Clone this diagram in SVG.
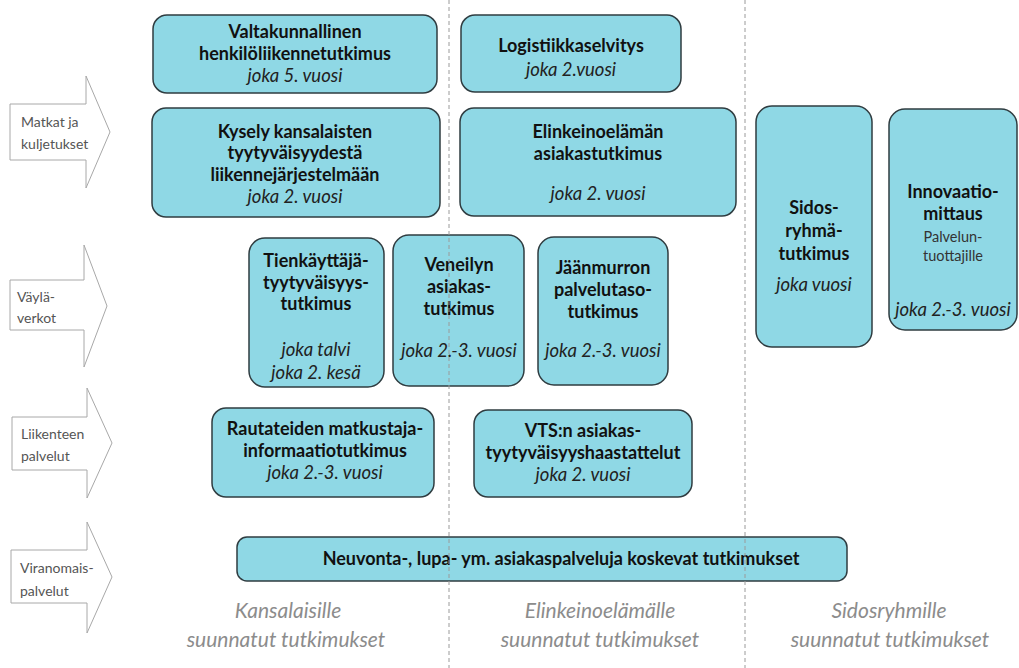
<svg xmlns="http://www.w3.org/2000/svg" width="1019" height="668" viewBox="0 0 1019 668">
<style>
.box{fill:#8fd8e5;stroke:#2f3c40;stroke-width:1.5}
.arrow{fill:#fff;stroke:#a8a8a8;stroke-width:1}
.b{font-family:Lato,"Open Sans",sans-serif;font-weight:bold;font-size:18px;fill:#111;text-anchor:middle}
.i{font-family:Lato,"Open Sans",sans-serif;font-style:italic;font-size:18.5px;fill:#222;text-anchor:middle}
.s{font-family:Lato,"Open Sans",sans-serif;font-size:14.5px;fill:#333;text-anchor:middle}
.al{font-family:Lato,"Open Sans",sans-serif;font-size:14px;fill:#555}
.bt{font-family:Lato,"Open Sans",sans-serif;font-style:italic;font-size:21px;fill:#8c8c8c;text-anchor:middle}
.dash{stroke:#9a9a9a;stroke-width:1;stroke-dasharray:4 3;fill:none}
</style>
<rect width="1019" height="668" fill="#fff"/>
<g id="arrows">
<g id="arrow-matkat"><polygon class="arrow" points="10,104 86,104 86,76 110,132 86,188 86,160 10,160"/><text class="al" x="21" y="127">Matkat ja</text><text class="al" x="21" y="149">kuljetukset</text></g>
<g id="arrow-vayla"><polygon class="arrow" points="10,280 84,280 84,245 107,306 84,367 84,330 10,330"/><text class="al" x="17" y="302">Väylä-</text><text class="al" x="17" y="323">verkot</text></g>
<g id="arrow-liikenteen"><polygon class="arrow" points="12,417 87,417 87,388 112,443 87,498 87,470 12,470"/><text class="al" x="21" y="439">Liikenteen</text><text class="al" x="21" y="461">palvelut</text></g>
<g id="arrow-viranomais"><polygon class="arrow" points="11,550 87,550 87,522 112,577 87,633 87,603 11,603"/><text class="al" x="20" y="573">Viranomais-</text><text class="al" x="20" y="596">palvelut</text></g>
</g>
<g id="n-valtakunnallinen"><rect class="box" x="153" y="15" width="284" height="78" rx="14"/><text class="b" x="295" y="38">Valtakunnallinen</text><text class="b" x="295" y="60">henkilöliikennetutkimus</text><text class="i" x="295" y="82">joka 5. vuosi</text></g>
<g id="n-kysely"><rect class="box" x="152" y="108" width="288" height="109" rx="14"/><text class="b" x="295" y="138">Kysely kansalaisten</text><text class="b" x="295" y="159">tyytyväisyydestä</text><text class="b" x="295" y="181">liikennejärjestelmään</text><text class="i" x="295" y="203">joka 2. vuosi</text></g>
<g id="n-logistiikka"><rect class="box" x="461" y="15" width="220" height="77" rx="14"/><text class="b" x="571" y="52">Logistiikkaselvitys</text><text class="i" x="571" y="76">joka 2.vuosi</text></g>
<g id="n-elinkeino"><rect class="box" x="460" y="108" width="276" height="108" rx="14"/><text class="b" x="598" y="138">Elinkeinoelämän</text><text class="b" x="598" y="160">asiakastutkimus</text><text class="i" x="598" y="200">joka 2. vuosi</text></g>
<g id="n-sidos"><rect class="box" x="756" y="106" width="116" height="241" rx="16"/><text class="b" x="814" y="214">Sidos-</text><text class="b" x="814" y="237">ryhmä-</text><text class="b" x="814" y="260">tutkimus</text><text class="i" x="814" y="291">joka vuosi</text></g>
<g id="n-innovaatio"><rect class="box" x="889" y="109" width="128" height="221" rx="16"/><text class="b" x="953" y="198">Innovaatio-</text><text class="b" x="953" y="220">mittaus</text><text class="s" x="953" y="242">Palvelun-</text><text class="s" x="953" y="261">tuottajille</text><text class="i" x="953" y="316">joka 2.-3. vuosi</text></g>
<g id="n-tienkayttaja"><rect class="box" x="249" y="238" width="135" height="149" rx="16"/><text class="b" x="316" y="267">Tienkäyttäjä-</text><text class="b" x="316" y="289">tyytyväisyys-</text><text class="b" x="316" y="310">tutkimus</text><text class="i" x="316" y="356">joka talvi</text><text class="i" x="316" y="379">joka 2. kesä</text></g>
<g id="n-veneilyn"><rect class="box" x="393" y="235" width="131" height="151" rx="16"/><text class="b" x="459" y="271">Veneilyn</text><text class="b" x="459" y="293">asiakas-</text><text class="b" x="459" y="315">tutkimus</text><text class="i" x="459" y="357">joka 2.-3. vuosi</text></g>
<g id="n-jaanmurron"><rect class="box" x="538" y="237" width="130" height="148" rx="16"/><text class="b" x="603" y="274">Jäänmurron</text><text class="b" x="603" y="296">palvelutaso-</text><text class="b" x="603" y="318">tutkimus</text><text class="i" x="603" y="357">joka 2.-3. vuosi</text></g>
<g id="n-rautateiden"><rect class="box" x="212" y="408" width="222" height="89" rx="14"/><text class="b" x="325" y="435">Rautateiden matkustaja-</text><text class="b" x="325" y="457">informaatiotutkimus</text><text class="i" x="325" y="479">joka 2.-3. vuosi</text></g>
<g id="n-vts"><rect class="box" x="474" y="410" width="218" height="87" rx="14"/><text class="b" x="583" y="437">VTS:n asiakas-</text><text class="b" x="583" y="459">tyytyväisyyshaastattelut</text><text class="i" x="583" y="481">joka 2. vuosi</text></g>
<g id="n-neuvonta"><rect class="box" x="237" y="537" width="610" height="44" rx="10"/><text class="b" x="561" y="565">Neuvonta-, lupa- ym. asiakaspalveluja koskevat tutkimukset</text></g>
<g id="connectors">
<line class="dash" x1="449" y1="0" x2="449" y2="668"/>
<line class="dash" x1="745" y1="0" x2="745" y2="668"/>
</g>
<g id="column-labels">
<text class="bt" x="288" y="618">Kansalaisille</text><text class="bt" x="286" y="647">suunnatut tutkimukset</text>
<text class="bt" x="600" y="618">Elinkeinoelämälle</text><text class="bt" x="600" y="647">suunnatut tutkimukset</text>
<text class="bt" x="889" y="618">Sidosryhmille</text><text class="bt" x="890" y="647">suunnatut tutkimukset</text>
</g>
</svg>
